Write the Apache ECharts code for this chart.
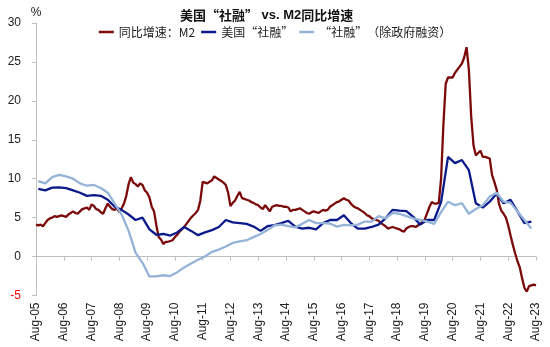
<!DOCTYPE html>
<html>
<head>
<meta charset="utf-8">
<script src="https://cdn.jsdelivr.net/npm/echarts@6/dist/echarts.min.js"></script>
<style>
html,body{margin:0;padding:0;background:#fff;}
#chart{width:550px;height:347px;}
</style>
</head>
<body>
<div id="chart"></div>
<script>
// Monthly categories Aug-05 .. Aug-23
const monthNames = ['Jan','Feb','Mar','Apr','May','Jun','Jul','Aug','Sep','Oct','Nov','Dec'];
const startYear = 2005, startMonth = 7, monthCount = 217;
const tickLabels = ['Aug-05','Aug-06','Aug-07','Aug-08','Aug-09','Aug-10','Aug-11','Aug-12','Aug-13','Aug-14','Aug-15','Aug-16','Aug-17','Aug-18','Aug-19','Aug-20','Aug-21','Aug-22','Aug-23'];
const yTicks = [-5, 0, 5, 10, 15, 20, 25, 30];

// M2 YoY, monthly from Aug-05
const m2 = [
  4.1, 4.0, 4.1, 3.9, 4.3, 4.7, 4.9, 5.0, 5.2, 5.1, 5.2, 5.3,
  5.2, 5.1, 5.4, 5.6, 5.8, 5.6, 5.5, 5.8, 6.1, 6.2, 6.3, 6.0,
  6.7, 6.5, 6.1, 6.0, 5.7, 5.5, 6.2, 6.8, 6.4, 6.1, 6.0, 6.2,
  5.7, 6.2, 6.8, 7.8, 9.3, 10.2, 9.5, 9.3, 9.0, 9.4, 9.2, 8.5,
  8.2, 7.6, 6.4, 5.8, 4.0, 2.5, 2.2, 1.6, 1.9, 1.9, 2.0, 2.1,
  2.5, 2.8, 3.2, 3.5, 3.8, 4.2, 4.6, 5.0, 5.3, 5.6, 6.0, 7.2,
  9.6, 9.5, 9.4, 9.6, 9.8, 10.3, 10.1, 9.9, 9.7, 9.5, 9.2, 8.2,
  6.5, 6.9, 7.2, 7.8, 8.3, 7.5, 7.4, 7.3, 7.2, 7.0, 6.9, 6.7,
  6.6, 6.3, 6.1, 6.6, 6.2, 5.8, 6.4, 6.5, 6.6, 6.5, 6.5, 6.4,
  6.4, 6.3, 5.8, 6.0, 6.0, 6.1, 6.2, 6.0, 5.8, 5.6, 5.5, 5.7,
  5.8, 5.7, 5.6, 5.8, 6.0, 5.9, 6.0, 6.4, 6.6, 6.8, 7.0, 7.1,
  7.3, 7.5, 7.3, 7.2, 6.8, 6.5, 6.3, 6.2, 6.0, 5.8, 5.6, 5.3,
  5.2, 4.9, 4.8, 4.7, 4.6, 4.3, 4.1, 3.9, 3.6, 3.7, 3.8, 3.7,
  3.6, 3.5, 3.3, 3.2, 3.6, 3.8, 3.9, 3.9, 3.8, 4.0, 4.2, 4.5,
  4.8, 5.6, 6.4, 7.0, 6.8, 6.8, 6.9, 10.0, 17.0, 22.2, 23.0, 23.0,
  23.0, 23.6, 24.0, 24.4, 24.8, 25.6, 26.9, 24.0, 18.0, 14.3, 13.0, 13.3,
  13.6, 12.8, 12.8, 12.7, 12.6, 10.5, 9.6, 8.6, 6.8, 5.9, 5.5, 5.0,
  4.0, 2.7, 1.5, 0.4, -0.6, -1.4, -2.8, -4.0, -4.5, -3.8, -3.7, -3.6,
  -3.7
];

// US "social financing", quarterly (first point Sep-05, step 3 months)
const sf = [
  8.7, 8.5, 8.85, 8.9, 8.8, 8.5, 8.2, 7.8, 7.9, 7.8, 7.3, 6.4,
  6.0, 5.4, 4.7, 5.0, 3.5, 2.8, 2.9, 2.7, 3.1, 3.8, 3.3, 2.75,
  3.1, 3.4, 3.8, 4.7, 4.4, 4.3, 4.2, 3.85, 3.3, 3.9, 4.05, 4.3,
  4.6, 3.85, 3.6, 3.7, 3.5, 4.3, 4.7, 4.7, 5.3, 4.3, 3.6, 3.6,
  3.8, 4.1, 4.9, 6.0, 5.9, 5.85, 5.1, 4.1, 4.7, 4.7, 7.0, 12.8,
  12.0, 12.4, 11.1, 6.85, 6.3, 7.05, 8.1, 6.85, 7.3, 5.8, 4.3, 4.5
];

// "Social financing" excluding government financing, quarterly
const sfExGov = [
  9.7, 9.4, 10.2, 10.5, 10.3, 10.0, 9.4, 9.1, 9.2, 8.8, 8.2, 6.8,
  5.4, 3.3, 0.5, -0.8, -2.55, -2.55, -2.4, -2.5, -2.0, -1.4, -0.9, -0.4,
  0.0, 0.6, 0.9, 1.3, 1.75, 1.95, 2.1, 2.5, 2.9, 3.4, 4.0, 4.1,
  3.9, 3.75, 4.2, 4.7, 4.3, 4.3, 4.25, 3.85, 4.06, 4.0, 4.1, 4.5,
  4.5, 5.2, 4.9, 5.6, 5.5, 5.2, 4.9, 4.7, 4.5, 4.2, 5.7, 7.05,
  6.6, 6.85, 5.5, 6.1, 6.6, 7.7, 8.2, 7.05, 6.9, 5.8, 4.7, 3.6
];

const seriesNames = ['同比增速：M2', '美国“社融”', '“社融”（除政府融资）'];
const colors = ['#7B0A0A', '#0B1A8A', '#95B3D7'];

const categories = [];
for (let i = 0; i < monthCount; i++) {
  const mi = (startMonth + i) % 12;
  const yr = startYear + Math.floor((startMonth + i) / 12);
  categories.push(monthNames[mi] + '-' + String(yr % 100).padStart(2, '0'));
}
const quarterly = arr => arr.map((v, k) => [1 + 3 * k, v]);

const font = '"Liberation Sans", Arial, "Noto Sans CJK SC", sans-serif';
const cjk = '"Noto Sans CJK SC", sans-serif';
const chart = echarts.init(document.getElementById('chart'), null, {renderer: 'canvas'});
chart.setOption({
  animation: false,
  backgroundColor: '#fff',
  textStyle: {fontFamily: font},
  title: {
    text: '{c|美国“社融”}{l| vs. M2}{c|同比增速}',
    left: 180, top: 9, padding: 0,
    textStyle: {
      fontSize: 13, fontWeight: 'bold', color: '#111',
      rich: {
        c: {fontFamily: cjk, fontSize: 13, fontWeight: 'bold', color: '#111'},
        l: {fontFamily: font, fontSize: 13, fontWeight: 'bold', color: '#111'}
      }
    }
  },
  legend: {
    data: seriesNames,
    top: 26, left: 'center', padding: 0,
    itemWidth: 15, itemHeight: 2.5, itemGap: 6,
    icon: 'rect',
    textStyle: {fontSize: 12, color: '#222', fontFamily: cjk}
  },
  grid: {left: 36, right: 14, top: 23, bottom: 51.5, containLabel: false},
  xAxis: [{
    type: 'category', data: categories, boundaryGap: false,
    axisLine: {onZero: true, lineStyle: {color: '#BFBFBF', width: 1}},
    axisTick: {show: true, interval: 11, length: 4, lineStyle: {color: '#BFBFBF'}},
    axisLabel: {show: false},
    splitLine: {show: false}
  }, {
    type: 'category', data: categories, boundaryGap: false, position: 'bottom',
    axisLine: {show: false, onZero: false},
    axisTick: {show: false},
    axisLabel: {
      show: true, interval: 11, rotate: 90, margin: 7,
      fontSize: 12, color: '#222', fontFamily: font,
      formatter: (v, i) => tickLabels[Math.round(i / 12)] || v
    },
    splitLine: {show: false}
  }],
  yAxis: {
    type: 'value', min: yTicks[0], max: yTicks[yTicks.length - 1], interval: 5,
    name: '%', nameLocation: 'end', nameGap: 4,
    nameTextStyle: {fontSize: 12, color: '#222', align: 'center', fontFamily: font},
    axisLine: {show: true, lineStyle: {color: '#BFBFBF', width: 1}},
    axisTick: {show: true, length: 4, lineStyle: {color: '#BFBFBF'}},
    axisLabel: {
      fontSize: 12, margin: 15, fontFamily: font,
      color: v => (Number(v) < 0 ? '#FF0000' : '#222')
    },
    splitLine: {show: false}
  },
  series: [{
    name: seriesNames[0], type: 'line', data: m2, xAxisIndex: 0,
    showSymbol: false, symbol: 'none', color: colors[0],
    lineStyle: {width: 2.3, color: colors[0]}
  }, {
    name: seriesNames[1], type: 'line', data: quarterly(sf), xAxisIndex: 0,
    showSymbol: false, symbol: 'none', color: colors[1],
    lineStyle: {width: 2.3, color: colors[1]}
  }, {
    name: seriesNames[2], type: 'line', data: quarterly(sfExGov), xAxisIndex: 0,
    showSymbol: false, symbol: 'none', color: colors[2],
    lineStyle: {width: 2.3, color: colors[2]}
  }]
});
</script>
</body>
</html>
